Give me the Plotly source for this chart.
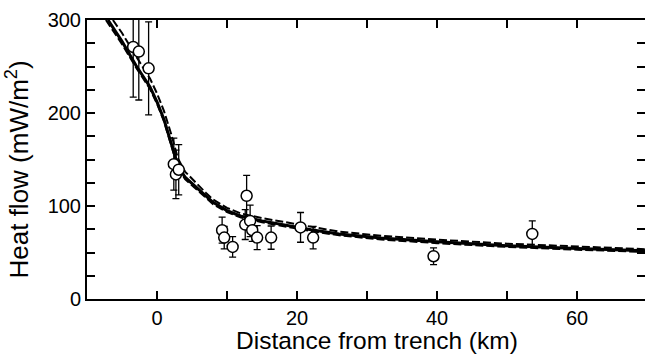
import plotly.graph_objects as go

# ---- data ----
obs_x = [-3.4, -2.6, -1.2, 2.4, 2.7, 3.1, 9.3, 9.6, 10.8, 12.8, 12.6, 13.3, 13.6, 14.3, 16.3, 20.5, 22.3, 39.5, 53.6]
obs_y = [271, 266, 248, 145, 134, 139, 74, 66, 56, 111, 80, 84, 74, 66, 66, 77, 66, 46, 70]
obs_err = [54, 52, 50, 28, 26, 27, 14, 12, 11, 22, 16, 17, 12, 13, 12.5, 16, 12, 9, 14]

model_x = [-7, -5, -3, -1, 0, 1, 2, 3, 4, 5, 6, 7, 8, 10, 12, 15, 18, 22, 26, 32, 40, 50, 60, 70]
model_mid = [300, 277, 251, 228, 212, 193, 168, 143, 131, 124, 117, 110, 104, 95, 89, 84, 80, 74.5, 70, 65.5, 61.5, 57.3, 54.3, 51.7]

upper_x = [-6.3, -5, -3, -1, 0, 1, 2, 3, 4, 5, 6, 7, 8, 10, 12, 15, 18, 22, 26, 32, 40, 50, 60, 70]
model_upper = [300, 286, 261, 237, 221, 202, 178, 151, 137, 129, 121, 114, 107, 98, 92, 87, 83, 77.5, 72.5, 68, 63.8, 59.5, 56.3, 53.5]

lower_x = [-7.3, -5, -3, -1, 0, 1, 2, 3, 4, 5, 6, 7, 8, 10, 12, 15, 18, 22, 26, 32, 40, 50, 60, 70]
model_lower = [300, 274, 249, 226, 210, 191, 166, 141, 129, 122, 115, 108, 102, 93.5, 87.5, 82.5, 78.5, 73, 68.5, 64, 60, 56, 53, 50.5]

x_tickvals = [-10, 0, 10, 20, 30, 40, 50, 60, 70]
x_ticktext = ["", "0", "", "20", "", "40", "", "60", ""]
y_tickvals = [0, 25, 50, 75, 100, 125, 150, 175, 200, 225, 250, 275, 300]
y_ticktext = ["0", "", "", "", "100", "", "", "", "200", "", "", "", "300"]

x_title = "Distance from trench (km)"
y_title = "Heat flow (mW/m<sup>2</sup>)"

fig = go.Figure()

fig.add_trace(go.Scatter(x=upper_x, y=model_upper, mode="lines",
                         line=dict(color="black", width=2, dash="8px,3px"),
                         showlegend=False, hoverinfo="skip"))
fig.add_trace(go.Scatter(x=lower_x, y=model_lower, mode="lines",
                         line=dict(color="black", width=2, dash="8px,3px"),
                         showlegend=False, hoverinfo="skip"))
fig.add_trace(go.Scatter(x=model_x, y=model_mid, mode="lines",
                         line=dict(color="black", width=3),
                         showlegend=False, hoverinfo="skip"))

fig.add_trace(go.Scatter(
    x=obs_x, y=obs_y, mode="markers",
    marker=dict(symbol="circle", size=11, color="white",
                line=dict(color="black", width=1.5)),
    error_y=dict(type="data", array=obs_err, visible=True,
                 color="black", thickness=1.3, width=3.5),
    showlegend=False, cliponaxis=True))

# empty trace on a right-hand overlay axis, to carry the inward right ticks
fig.add_trace(go.Scatter(x=[], y=[], yaxis="y2", showlegend=False))

font_family = "Liberation Sans, Arial, sans-serif"

fig.update_layout(
    width=645, height=354,
    margin=dict(l=87, r=0, t=20, b=55),
    paper_bgcolor="white", plot_bgcolor="white",
    font=dict(family=font_family, color="black", size=20),
    xaxis=dict(
        range=[-10, 69.7], tickmode="array", tickvals=x_tickvals, ticktext=x_ticktext,
        ticks="inside", ticklen=8, tickwidth=1.5, tickcolor="black",
        showline=True, linecolor="black", linewidth=2, mirror="ticks",
        showgrid=False, zeroline=False,
        tickfont=dict(size=20, family=font_family),
    ),
    yaxis=dict(
        range=[0, 300], tickmode="array", tickvals=y_tickvals, ticktext=y_ticktext,
        ticks="inside", ticklen=8, tickwidth=1.5, tickcolor="black",
        showline=True, linecolor="black", linewidth=2, mirror=False,
        showgrid=False, zeroline=False,
        tickfont=dict(size=20, family=font_family),
    ),
    yaxis2=dict(
        overlaying="y", side="right", range=[0, 300],
        tickmode="array", tickvals=y_tickvals, showticklabels=False,
        ticks="inside", ticklen=8, tickwidth=1.5, tickcolor="black",
        showline=False, showgrid=False, zeroline=False,
    ),
    annotations=[
        dict(text=x_title, xref="paper", yref="paper", x=0.52, y=-0.148,
             xanchor="center", yanchor="middle", showarrow=False,
             font=dict(size=24.5, family=font_family, color="black")),
        dict(text=y_title, xref="paper", yref="paper", x=-0.125, y=0.465,
             xanchor="center", yanchor="middle", showarrow=False, textangle=-90,
             font=dict(size=26, family=font_family, color="black")),
    ],
)

fig.write_html("out.html")
